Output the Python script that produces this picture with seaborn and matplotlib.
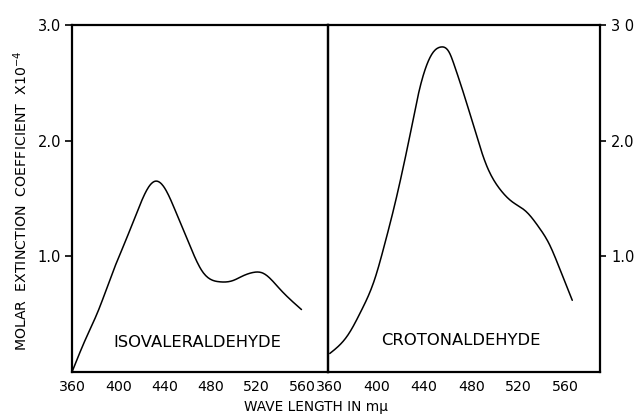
import numpy as np
import pandas as pd
import matplotlib
matplotlib.use("Agg")
import matplotlib.pyplot as plt
import seaborn as sns

# Isovaleraldehyde spectrum (left panel)
iso_wavelength = [360, 371.6, 383.2, 394.8, 406.3, 417.9, 426.5, 432.4, 439.7, 449.8,
                  461.5, 473, 487.8, 499.4, 508, 516.8, 525.5, 540, 559]
iso_coef = [0.0, 0.28, 0.54, 0.85, 1.13, 1.42, 1.60, 1.65, 1.60, 1.39,
            1.11, 0.87, 0.78, 0.79, 0.83, 0.86, 0.855, 0.72, 0.54]

# Crotonaldehyde spectrum (right panel)
cro_wavelength = [360, 375.4, 386.7, 398, 406.4, 414.9, 423.3, 430.4, 434.6, 440.3,
                  447.3, 454.3, 461.4, 465.6, 474, 483, 492.3, 503.5, 514.8, 526.1,
                  537.3, 545.8, 554.2, 565.5]
cro_coef = [0.16, 0.32, 0.53, 0.80, 1.10, 1.44, 1.82, 2.17, 2.38, 2.60,
            2.76, 2.81, 2.76, 2.65, 2.39, 2.09, 1.80, 1.59, 1.47, 1.39,
            1.25, 1.11, 0.91, 0.62]

x_ticks = [360, 400, 440, 480, 520, 560]
y_ticks = [1.0, 2.0, 3.0]
y_tick_labels = ["1.0", "2.0", "3.0"]
right_y_tick_labels = ["1.0", "2.0", "3 0"]

iso_df = pd.DataFrame({"wavelength": iso_wavelength, "coef": iso_coef})
cro_df = pd.DataFrame({"wavelength": cro_wavelength, "coef": cro_coef})

sns.set_style("white")
plt.rcParams['font.family'] = ['DejaVu Sans']
plt.rcParams['text.color'] = 'black'
plt.rcParams['xtick.color'] = 'black'
plt.rcParams['ytick.color'] = 'black'


def natural_spline(xs, ys, per_seg=15):
    """Smooth curve through the read points (natural cubic spline in x)."""
    x = np.asarray(xs, float); y = np.asarray(ys, float)
    n = len(x)
    h = np.diff(x)
    A = np.zeros((n, n)); b = np.zeros(n)
    A[0, 0] = A[-1, -1] = 1
    for i in range(1, n - 1):
        A[i, i - 1] = h[i - 1]
        A[i, i] = 2 * (h[i - 1] + h[i])
        A[i, i + 1] = h[i]
        b[i] = 3 * ((y[i + 1] - y[i]) / h[i] - (y[i] - y[i - 1]) / h[i - 1])
    c = np.linalg.solve(A, b)
    xo, yo = [], []
    for i in range(n - 1):
        bi = (y[i + 1] - y[i]) / h[i] - h[i] * (2 * c[i] + c[i + 1]) / 3
        di = (c[i + 1] - c[i]) / (3 * h[i])
        t = np.linspace(0, h[i], per_seg, endpoint=False)
        xo.append(x[i] + t)
        yo.append(y[i] + bi * t + c[i] * t ** 2 + di * t ** 3)
    xo.append([x[-1]]); yo.append([y[-1]])
    return pd.DataFrame({"wavelength": np.concatenate(xo), "coef": np.concatenate(yo)})


fig = plt.figure(figsize=(6.41, 4.16), dpi=100)
W, H = 641, 416
def rect(x0, y0, x1, y1):
    return [x0 / W, 1 - y1 / H, (x1 - x0) / W, (y1 - y0) / H]

ax1 = fig.add_axes(rect(72, 25, 328, 372))
ax2 = fig.add_axes(rect(328, 25, 600, 372))

sns.lineplot(data=natural_spline(iso_df.wavelength, iso_df.coef), x="wavelength", y="coef",
             ax=ax1, color="black", lw=1.1, sort=False, estimator=None)
sns.lineplot(data=natural_spline(cro_df.wavelength, cro_df.coef), x="wavelength", y="coef",
             ax=ax2, color="black", lw=1.1, sort=False, estimator=None)

ax1.set_xlim(360, 582)
ax2.set_xlim(358.5, 589)
for ax in (ax1, ax2):
    ax.set_ylim(0, 3.0)
    ax.set_xticks(x_ticks)
    ax.set_xticklabels([str(v) for v in x_ticks])
    ax.set_xlabel("")
    ax.set_ylabel("")
    for s in ax.spines.values():
        s.set_linewidth(1.6)
        s.set_color("black")
    ax.tick_params(axis="x", direction="inout", length=5, width=1.2, pad=3,
                   colors="black", labelsize=10.2)
    ax.patch.set_alpha(0)

ax1.set_yticks(y_ticks)
ax1.set_yticklabels(y_tick_labels)
ax1.tick_params(axis="y", direction="out", length=5, width=1.2, pad=3, left=True,
                labelsize=10.5)

ax2.yaxis.tick_right()
ax2.set_yticks(y_ticks)
ax2.set_yticklabels(right_y_tick_labels)
ax2.tick_params(axis="y", direction="out", length=4, width=1.2, pad=4, right=True,
                left=False, labelsize=10.5)

ax1.text(0.49, 0.085, "ISOVALERALDEHYDE", transform=ax1.transAxes, ha="center",
         va="center", fontsize=11.8)
ax2.text(0.49, 0.09, "CROTONALDEHYDE", transform=ax2.transAxes, ha="center",
         va="center", fontsize=11.8)

fig.text(21 / W, 1 - 201 / H, "MOLAR  EXTINCTION  COEFFICIENT  X10$^{-4}$",
         rotation=90, ha="center", va="center", fontsize=10.2)
fig.text(316 / W, 1 - 407 / H, "WAVE LENGTH IN mμ", ha="center", va="center",
         fontsize=9.8)

fig.savefig("out.png", dpi=100, facecolor="white")
